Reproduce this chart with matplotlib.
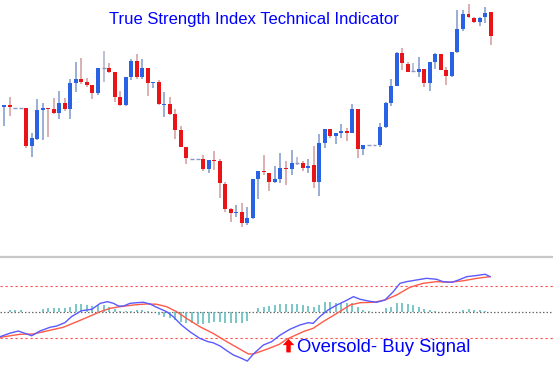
import matplotlib
matplotlib.use("Agg")
import matplotlib.pyplot as plt
from matplotlib.lines import Line2D
from matplotlib.patches import FancyArrow

# ---------------- data ----------------
opens = [142.7, 145.0, 142.3, 142.3, 142.3, 104.0, 111.0, 140.3, 142.0, 141.0,
         137.0, 147.0, 141.3, 166.7, 171.3, 168.0, 164.7, 156.7, 182.0, 181.7,
         178.3, 152.7, 145.0, 173.3, 188.7, 173.3, 182.0, 166.7, 168.3, 145.5,
         146.0, 136.0, 120.0, 103.3, 90.7, 90.7, 90.7, 81.0, 90.0, 89.0,
         66.0, 40.7, 36.7, 38.3, 26.7, 31.7, 70.7, 79.0, 77.3, 68.3,
         70.7, 81.7, 81.0, 87.0, 86.7, 82.3, 85.0, 67.7, 107.3, 120.7,
         114.3, 116.7, 119.3, 116.7, 140.7, 100.7, 105.0, 105.0, 105.0, 123.3,
         147.3, 164.0, 196.7, 185.7, 179.0, 178.3, 181.0, 166.7, 187.7, 195.7,
         180.0, 174.0, 198.3, 221.0, 236.0, 231.7, 227.7, 232.7, 237.7]
highs = [145.0, 153.3, 142.3, 142.3, 142.3, 117.0, 151.0, 147.3, 142.0, 152.3,
         159.0, 152.3, 171.0, 188.0, 192.0, 172.3, 164.7, 182.0, 199.0, 187.0,
         178.3, 159.3, 173.3, 191.0, 195.7, 191.0, 182.0, 168.3, 170.0, 158.3,
         152.7, 141.0, 124.5, 103.3, 90.7, 90.7, 95.0, 90.0, 99.0, 90.7,
         68.3, 42.3, 45.0, 47.3, 43.3, 70.7, 79.0, 95.0, 77.3, 84.0,
         96.7, 89.3, 100.0, 93.3, 89.0, 90.7, 104.0, 115.7, 120.7, 120.7,
         116.7, 125.7, 122.3, 145.7, 140.7, 105.0, 105.0, 105.0, 126.7, 148.3,
         170.7, 198.3, 201.7, 188.3, 187.3, 193.3, 181.0, 187.7, 197.3, 195.7,
         183.3, 198.3, 240.0, 240.0, 245.7, 232.7, 233.3, 243.3, 237.7]
lows = [124.0, 134.0, 142.3, 142.3, 102.0, 93.0, 110.0, 110.0, 113.3, 136.0,
        131.0, 139.0, 131.3, 158.3, 166.0, 163.3, 150.7, 155.0, 168.3, 177.0,
        148.3, 144.0, 144.5, 170.0, 171.3, 171.3, 154.0, 161.7, 145.0, 133.3,
        135.0, 110.7, 102.7, 86.0, 90.7, 90.7, 79.3, 76.7, 80.0, 51.7,
        38.3, 28.3, 33.3, 22.7, 25.0, 31.0, 50.7, 75.0, 59.3, 66.7,
        66.7, 65.0, 75.0, 85.0, 79.0, 76.7, 61.7, 54.0, 101.7, 112.0,
        105.7, 111.7, 109.0, 116.7, 92.3, 95.0, 105.0, 105.0, 103.3, 121.7,
        144.0, 164.0, 180.0, 177.7, 177.7, 173.3, 162.7, 159.3, 181.0, 180.0,
        165.0, 173.3, 196.7, 219.0, 231.7, 226.7, 224.0, 226.7, 205.0]
closes = [144.7, 143.0, 142.3, 142.3, 104.0, 112.0, 140.0, 142.3, 141.0, 137.0,
          147.0, 141.3, 166.7, 171.3, 168.0, 165.0, 156.7, 182.0, 182.0, 178.3,
          152.7, 145.0, 173.3, 188.7, 173.3, 182.0, 166.7, 168.3, 145.7, 146.5,
          136.0, 120.0, 103.3, 91.7, 90.7, 90.7, 81.0, 90.0, 89.0, 66.7,
          40.7, 36.7, 38.3, 26.7, 31.7, 70.7, 79.0, 78.0, 68.3, 70.7,
          81.7, 80.7, 86.7, 87.0, 82.3, 84.0, 67.7, 107.3, 120.7, 114.0,
          116.7, 119.3, 116.7, 140.7, 100.7, 105.0, 105.0, 105.0, 123.3, 147.3,
          164.0, 196.7, 186.7, 178.3, 179.0, 181.0, 166.7, 187.7, 195.7, 180.0,
          174.0, 198.3, 221.0, 236.0, 232.7, 227.7, 232.3, 236.7, 214.3]

hist = [0, 2.2, 2.2, 2.2, 0, 0, 0, 2.9, 3.8, 3.8,
        3.8, 3.8, 5.4, 8.0, 8.0, 7.0, 6.1, 7.0, 7.0, 5.4,
        2.9, 1.6, 1.3, 1.3, 2.2, 2.2, 1.3, 0.6, -2.6, -4.2,
        -5.8, -7.4, -9.0, -10.6, -9.9, -11.2, -11.2, -9.9, -9.0, -9.0,
        -9.9, -9.9, -9.9, -9.9, -8.0, 0, 3.8, 5.4, 6.1, 6.7,
        8.0, 8.0, 8.0, 8.0, 7.0, 6.1, 4.8, 7.0, 10.2, 10.2,
        9.3, 8.6, 8.6, 8.6, 4.8, 2.2, 1.3, 0.6, 0.6, 3.8,
        5.4, 9.3, 9.3, 8.0, 7.0, 4.8, 2.9, 2.2, 1.3, 0.6,
        0, 0, 0, 2.2, 2.9, 2.2, 2.2, 1.6, 0]

tsi_x = [-0.7, 1.1, 2.6, 3.8, 5.0, 6.5, 8.3, 9.5, 11.0, 12.2, 14.0, 15.9, 17.4, 18.7,
         19.8, 20.7, 21.6, 22.8, 24.0, 25.2, 26.4, 27.6, 29.4, 30.6, 32.1, 33.6,
         35.4, 36.9, 37.8, 39.1, 40.3, 41.5, 42.7, 44.0, 45.1, 46.9, 48.4, 49.9,
         51.7, 53.5, 55.0, 55.9, 57.1, 58.6, 60.2, 61.7, 63.2, 64.4, 65.9, 67.4,
         68.9, 70.4, 71.6, 72.8, 74.6, 76.4, 78.2, 79.4, 81.0, 82.2, 83.7, 85.2,
         87.0, 87.9]
tsi_v = [-23.4, -20.0, -18.0, -20.2, -22.5, -18.0, -14.4, -13.2, -10.0, -4.2, 1.5, 2.9, 8.6, 10.2,
         8.6, 6.0, 6.0, 8.6, 9.2, 9.6, 8.0, 4.8, 0.6, -4.2, -12.2, -18.6,
         -25.0, -28.2, -29.2, -32.4, -36.9, -41.0, -43.6, -46.8, -40.0, -31.4, -28.2, -22.0,
         -16.3, -12.2, -10.0, -10.6, -4.2, 2.2, 7.0, 10.8, 15.0, 12.5, 10.8, 9.6,
         11.8, 19.8, 27.8, 29.4, 31.0, 32.6, 31.7, 29.4, 28.8, 31.0, 34.2, 35.1,
         36.5, 34.2]

sig_x = [-0.7, 2.9, 5.3, 7.7, 10.7, 13.2, 15.6, 17.4, 19.2, 21.0, 23.4, 25.8, 27.6,
         29.4, 31.2, 33.0, 35.4, 37.8, 40.3, 42.7, 44.2, 45.1, 47.5, 49.8, 51.1,
         54.1, 55.9, 57.7, 60.2, 62.6, 64.4, 66.8, 68.9, 71.0, 73.4, 75.8, 78.2,
         80.6, 83.1, 85.5, 87.9]
sig_v = [-24.0, -21.1, -20.8, -18.0, -14.4, -9.0, -3.6, 0.6, 3.8, 5.4, 7.0, 8.0, 7.7,
         5.4, 0.6, -5.8, -13.8, -20.2, -28.2, -35.5, -40.0, -40.0, -35.5, -30.7, -25.9,
         -18.6, -15.4, -9.0, -1.0, 7.0, 9.2, 9.6, 11.8, 16.6, 24.0, 27.8, 29.4,
         28.8, 30.3, 32.6, 34.2]

levels = [25, -25]
title = "True Strength Index Technical Indicator"
signal_label = "Oversold- Buy Signal"
signal_at = 51.45

# ---------------- figure ----------------
W, H = 553, 367
fig = plt.figure(figsize=(W / 100, H / 100), dpi=100)
fig.patch.set_facecolor("white")

XMIN, XMAX = -0.7233, 99.28

ax = fig.add_axes([0, 117 / H, 1, 250 / H])
ax.set_xlim(XMIN, XMAX)
ax.set_ylim(0, 250)
ax.axis("off")

BW = 0.72
for i, (o, h, l, c) in enumerate(zip(opens, highs, lows, closes)):
    if c > o:
        body, wick = "#2a62e6", "#7f98cc"
    elif c < o:
        body, wick = "#e81418", "#d39a9a"
    else:
        body, wick = "#8a96c8", "#a9b0cc"
    ax.vlines(i, l, h, color=wick, lw=1.1, zorder=1)
    if c != o:
        lo, hi = min(o, c), max(o, c)
        ax.bar(i, hi - lo, bottom=lo, width=BW, color=body, edgecolor="none",
               linewidth=0, zorder=2)
    else:
        ax.hlines(o, i - BW / 2, i + BW / 2, color=body, lw=1.0, zorder=2)

# ---------------- lower panel ----------------
bx = fig.add_axes([0, 0, 1, 109 / H])
bx.set_xlim(XMIN, XMAX)
bx.set_ylim(-52.5, 52.1)
bx.axis("off")

for lv in levels:
    bx.axhline(lv, color="#ff4a4a", lw=0.8, ls=(0, (2, 2.5)), zorder=1)
bx.axhline(0, color="#6a6a6a", lw=0.9, ls=(0, (1.2, 1.6)), zorder=1)

idx = list(range(len(hist)))
bx.vlines(idx, 0, hist, color="#55b8b8", lw=1.1, zorder=2)

bx.plot(sig_x, sig_v, color="#ff5a48", lw=1.0, zorder=3)
bx.plot(tsi_x, tsi_v, color="#5a5aff", lw=1.0, zorder=4)

arr = FancyArrow(signal_at, -38.5, 0, 13.0, width=0.8, head_width=2.1,
                 head_length=6.0, length_includes_head=True,
                 color="#ff0000", lw=0, zorder=5)
bx.add_patch(arr)
bx.text(signal_at + 1.45, -37.8, signal_label, color="#0000ff",
        fontsize=13.3, family="Liberation Sans", va="baseline", ha="left")

# separator
fig.add_artist(Line2D([0, 1], [(H - 257) / H] * 2, transform=fig.transFigure,
                      color="#c8c8c8", lw=1.6))

fig.text(254 / W, 1 - 19.5 / H, title, color="#0000ff", fontsize=12,
         family="Liberation Sans", ha="center", va="center")

fig.savefig("out.png", dpi=100, facecolor="white")
